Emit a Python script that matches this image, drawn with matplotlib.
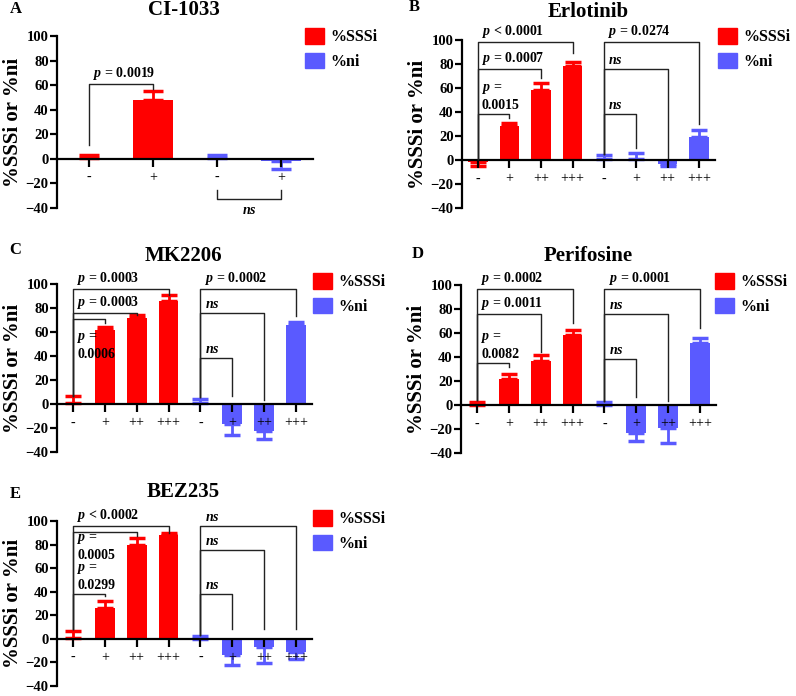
import numpy as np
import matplotlib
matplotlib.use('Agg')
import matplotlib.pyplot as plt
from matplotlib.patches import Patch

plt.rcParams['font.family'] = ['Liberation Serif', 'DejaVu Serif']
plt.rcParams['mathtext.fontset'] = 'custom'
plt.rcParams['mathtext.it'] = 'Liberation Serif:italic:bold'
plt.rcParams['mathtext.rm'] = 'Liberation Serif:bold'

RED = '#ff0000'
BLUE = '#5a5aff'
W, H = 796, 696

# ---- data ----
cats_a = ['-', '+']
sssi_a = [0.3, 48]
sssi_err_a = [2.7, 7]
ni_a = [0.3, -2]
ni_err_a = [2.7, 6]

cats_4 = ['-', '+', '++', '+++']

sssi_b = [-1.5, 28, 58, 78]
sssi_err_b = [3.5, 3, 6.5, 4]
ni_b = [0.5, 1, -3.5, 19.5]
ni_err_b = [3.5, 4.5, 1.5, 5.5]

sssi_c = [0.5, 61.5, 72, 86]
sssi_err_c = [6, 3, 2, 4.5]
ni_c = [0.5, -16.5, -22.5, 65.5]
ni_err_c = [4, 9.5, 6.5, 2.5]

sssi_d = [0.3, 22, 37, 58.5]
sssi_err_d = [2.5, 4, 4.5, 4]
ni_d = [0.3, -23, -19.5, 52]
ni_err_d = [1.8, 7, 12, 4]

sssi_e = [0.5, 26, 80, 88]
sssi_err_e = [6, 6, 6, 2]
ni_e = [0.3, -13.5, -6.5, -11]
ni_err_e = [2, 8.5, 14, 6]

# brackets: (left cat, right cat, line y, left end y, right end y, label, label placement)
br_a = [(0, 1, 61, 11, 57, '$p$ = 0.0019', 'above'),
        (2, 3, -33, -25, -25, '$ns$', 'under')]
br_b = [(0, 3, 98, 1, 89, '$p$ < 0.0001', 'above'),
        (0, 2, 76, 1, 68, '$p$ = 0.0007', 'above'),
        (0, 1, 38, 1, 35, '$p$ =\n0.0015', 'above'),
        (4, 7, 98, 5, 30, '$p$ = 0.0274', 'above'),
        (4, 6, 76, 5, 2, '$ns$', 'above'),
        (4, 5, 38, 5, 10, '$ns$', 'above')]
br_c = [(0, 3, 96, 7, 91, '$p$ = 0.0003', 'above'),
        (0, 2, 75.5, 7, 74.5, '$p$ = 0.0003', 'above'),
        (0, 1, 70.5, 7, 67.5, '$p$ =\n0.0006', 'below_far'),
        (4, 7, 96, 5.5, 73, '$p$ = 0.0002', 'above'),
        (4, 6, 75.5, 5.5, 3, '$ns$', 'above'),
        (4, 5, 38.5, 5.5, 7, '$ns$', 'above')]
br_d = [(0, 3, 97, 4, 68, '$p$ = 0.0002', 'above'),
        (0, 2, 75.5, 4, 44, '$p$ = 0.0011', 'above'),
        (0, 1, 35, 4, 31.5, '$p$ =\n0.0082', 'above'),
        (4, 7, 97, 3, 64, '$p$ = 0.0001', 'above'),
        (4, 6, 75.5, 3, 3.5, '$ns$', 'above'),
        (4, 5, 38.5, 3, 6.5, '$ns$', 'above')]
br_e = [(0, 3, 96, 8, 90, '$p$ < 0.0002', 'above'),
        (0, 2, 90.5, 8, 87, '$p$ =\n0.0005', 'below'),
        (0, 1, 38, 8, 36, '$p$ =\n0.0299', 'above'),
        (4, 7, 96, 3, 8, '$ns$', 'above'),
        (4, 6, 75, 3, 8, '$ns$', 'above'),
        (4, 5, 38, 3, 8, '$ns$', 'above')]

fig = plt.figure(figsize=(W / 100, H / 100), dpi=100)


def px_axes(l, t, r, b):
    return fig.add_axes([l / W, 1 - b / H, (r - l) / W, (b - t) / H])


def draw_panel(ax, cats, sssi, sssi_err, ni, ni_err, brackets, capsize):
    n = len(cats)
    xs = np.arange(2 * n)
    vals = list(sssi) + list(ni)
    errs = list(sssi_err) + list(ni_err)
    cols = [RED] * n + [BLUE] * n
    for x, v, e, c in zip(xs, vals, errs, cols):
        lo, hi = (e, 0) if v < 0 else (0, e)
        ax.bar(x, v, width=0.62, color=c, yerr=[[lo], [hi]],
               error_kw=dict(ecolor=c, elinewidth=2, capsize=capsize, capthick=2.5),
               zorder=1)
    txt = dict(fontsize=10, fontweight='bold', linespacing=1.3, zorder=4,
               textcoords='offset points')
    for xl, xr, y, yl, yr, lab, pos in brackets:
        ax.plot([xl, xl, xr, xr], [yl, y, y, yr], color='#222222', lw=1.0,
                clip_on=False, zorder=3)
        if pos == 'above':
            ax.annotate(lab, (xl, y), xytext=(3, 1.5), ha='left', va='bottom', **txt)
        elif pos == 'below':
            ax.annotate(lab, (xl, y), xytext=(3, 0), ha='left', va='top', **txt)
        elif pos == 'below_far':
            ax.annotate(lab, (xl, y), xytext=(3, -8), ha='left', va='top', **txt)
        else:
            ax.annotate(lab, ((xl + xr) / 2, y), xytext=(0, -3), ha='center', va='top', **txt)

    ax.set_xlim(-0.5, 2 * n - 0.5)
    ax.set_ylim(-40, 100)
    ax.set_yticks(np.arange(-40, 101, 20))
    ax.set_xticks(xs)
    ax.set_xticklabels(list(cats) * 2, fontsize=10)
    for s in ['top', 'right']:
        ax.spines[s].set_visible(False)
    ax.spines['bottom'].set_position(('data', 0))
    ax.spines['left'].set_linewidth(1.6)
    ax.spines['bottom'].set_linewidth(1.6)
    ax.tick_params(axis='y', length=5, width=1.6, labelsize=10.5, pad=1)
    ax.tick_params(axis='x', length=6, width=1.6, pad=3)
    for t in ax.get_yticklabels():
        t.set_fontweight('bold')
    ax.set_ylabel('%SSSi or %ni', fontsize=15, fontweight='bold', labelpad=2)
    ax.patch.set_visible(False)


def legend(ax, x, y):
    handles = [Patch(color=RED, label='%SSSi'), Patch(color=BLUE, label='%ni')]
    ax.legend(handles=handles, loc='upper left', bbox_to_anchor=(x / W, 1 - y / H),
              bbox_transform=fig.transFigure, frameon=False,
              prop=dict(weight='bold', size=11.5), handlelength=1.2, handleheight=1.15,
              handletextpad=0.4, labelspacing=0.45, borderpad=0, borderaxespad=0)


panels = [
    ('A', 'CI-1033', (57, 36, 313, 208), cats_a, sssi_a, sssi_err_a, ni_a, ni_err_a, br_a, 7,
     (10, 9), (184, 10), (305, 28)),
    ('B', 'Erlotinib', (462, 40, 715, 208), cats_4, sssi_b, sssi_err_b, ni_b, ni_err_b, br_b, 5.5,
     (409, 7), (588, 12), (718, 28)),
    ('C', 'MK2206', (57, 284, 312, 452), cats_4, sssi_c, sssi_err_c, ni_c, ni_err_c, br_c, 5.5,
     (9, 250), (183, 256), (313, 273)),
    ('D', 'Perifosine', (461, 285, 716, 453), cats_4, sssi_d, sssi_err_d, ni_d, ni_err_d, br_d, 5.5,
     (412, 254), (588, 256), (715, 273)),
    ('E', 'BEZ235', (57, 521, 312, 686), cats_4, sssi_e, sssi_err_e, ni_e, ni_err_e, br_e, 5.5,
     (10, 494), (183, 492), (313, 510)),
]

for letter, title, box, cats, s, se, ni, ne, br, cap, lpos, tpos, legpos in panels:
    ax = px_axes(*box)
    draw_panel(ax, cats, s, se, ni, ne, br, cap)
    legend(ax, *legpos)
    fig.text(lpos[0] / W, 1 - lpos[1] / H, letter, fontsize=12, fontweight='bold',
             ha='left', va='center')
    fig.text(tpos[0] / W, 1 - tpos[1] / H, title, fontsize=15, fontweight='bold',
             ha='center', va='center')

fig.savefig('out.png', dpi=100)
